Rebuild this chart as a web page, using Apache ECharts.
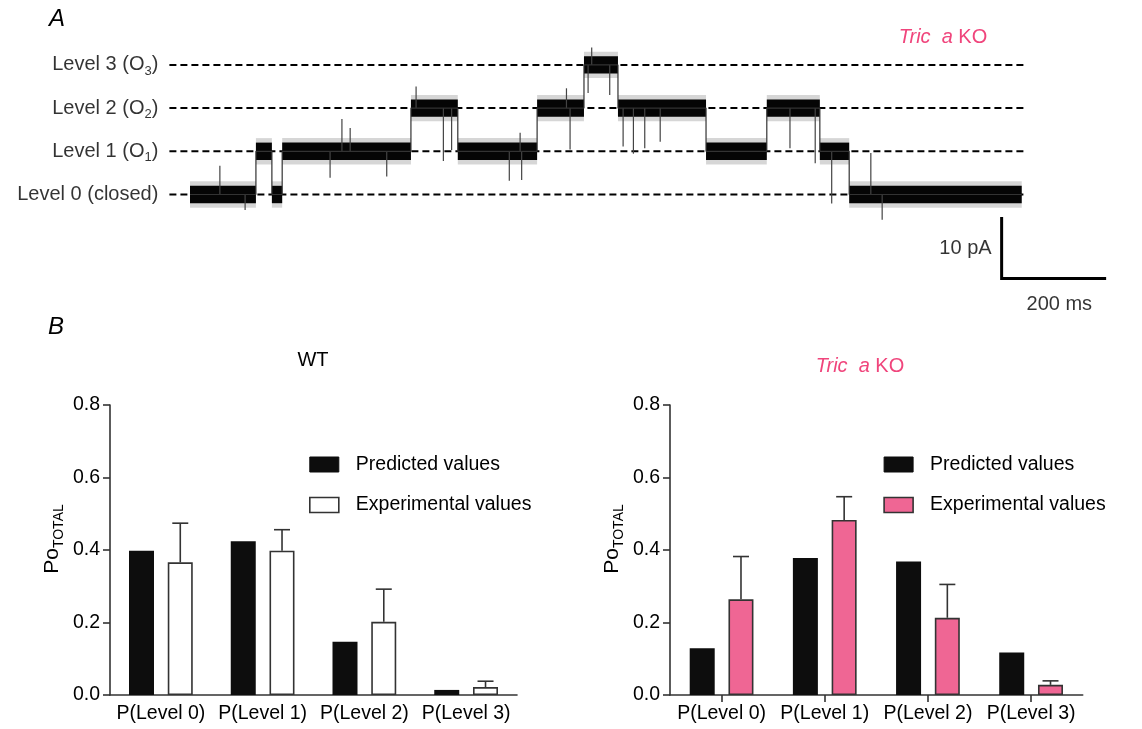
<!DOCTYPE html>
<html>
<head>
<meta charset="utf-8">
<script src="https://cdn.jsdelivr.net/npm/echarts@6/dist/echarts.min.js"></script>
<style>
  html, body { margin: 0; background: #fff; }
  #chart { width: 1142px; height: 729px; }
</style>
</head>
<body>
<div id="chart"></div>
<script>
// ---- panel A: single channel trace (time in ms, current in pA) ----
const levelValues = [0, 7.2, 14.4, 21.6];
const levelNames = ['Level 0 (closed)', 'Level 1 (O', 'Level 2 (O', 'Level 3 (O'];
const levelSubs = ['', '1', '2', '3'];
const dashRange = [-40, 1625];

// dwell periods: start, end, level index
const dwellStart = [0, 128, 159, 179, 429, 520, 674, 765, 831, 1002, 1120, 1223, 1280];
const dwellEnd   = [128, 159, 179, 429, 520, 674, 765, 831, 1002, 1120, 1223, 1280, 1615];
const dwellLevel = [0, 1, 0, 1, 2, 1, 2, 3, 2, 1, 2, 1, 0];

// brief spikes: time, peak current
const spikeTime = [58, 107, 272, 295, 311, 382, 439, 492, 508, 620, 641, 644, 731, 738,
                   780, 773, 815, 841, 861, 883, 913, 1165, 1214, 1246, 1322, 1344];
const spikePeak = [4.8, -2.6, 2.8, 12.6, 11.1, 3.0, 18.0, 5.6, 7.4, 2.3, 10.3, 2.4, 17.7, 7.5,
                   24.5, 16.9, 16.6, 8.0, 6.8, 7.7, 8.8, 7.7, 5.2, -1.5, 6.9, -4.2];

// scale bar: 200 ms by 10 pA
const scaleOrigin = [1576, -4];
const scaleTime = 200;
const scaleCurrent = 10;

// ---- panel B: open probabilities ----
const categories = ['P(Level 0)', 'P(Level 1)', 'P(Level 2)', 'P(Level 3)'];
const wtPredicted = [0.398, 0.424, 0.147, 0.014];
const wtExperimental = [0.366, 0.398, 0.202, 0.022];
const wtErrTop = [0.474, 0.456, 0.292, 0.038];
const koPredicted = [0.129, 0.378, 0.368, 0.117];
const koExperimental = [0.264, 0.483, 0.213, 0.028];
const koErrTop = [0.382, 0.547, 0.305, 0.039];
const yTicks = { min: 0, max: 0.8, interval: 0.2 };

const FONT = 'Liberation Sans';
const PINK_TEXT = '#f0457c';
const PINK_BAR = '#ef6694';
const INK = '#000';
const AXIS = '#333';

const chart = echarts.init(document.getElementById('chart'));

function levelOf(t) {
  for (let i = 0; i < dwellStart.length; i++) {
    if (t >= dwellStart[i] && t <= dwellEnd[i]) return levelValues[dwellLevel[i]];
  }
  return 0;
}

const tracePath = [];
dwellStart.forEach((s, i) => {
  tracePath.push([s, levelValues[dwellLevel[i]]]);
  tracePath.push([dwellEnd[i], levelValues[dwellLevel[i]]]);
});

const dashSeries = levelValues.map(v => ({
  type: 'line', xAxisIndex: 0, yAxisIndex: 0, silent: true, z: 1,
  symbol: 'none',
  data: [[dashRange[0], v], [dashRange[1], v]],
  lineStyle: { color: '#000', width: 2, type: [7, 4] }
}));

const subRich = {
  m: { fontFamily: FONT, fontSize: 20, color: INK, lineHeight: 26, verticalAlign: 'middle' },
  s: { fontFamily: FONT, fontSize: 13, color: INK, lineHeight: 13, verticalAlign: 'bottom' }
};

const nameRich = {
  p: { fontFamily: FONT, fontSize: 21, color: INK, lineHeight: 28, verticalAlign: 'middle' },
  s: { fontFamily: FONT, fontSize: 14, color: INK, lineHeight: 14, verticalAlign: 'bottom' }
};

function errorSeries(axisIndex, means, tops) {
  return {
    type: 'custom', xAxisIndex: axisIndex, yAxisIndex: axisIndex, z: 5, silent: true,
    data: means.map((m, i) => [i, m, tops[i]]),
    renderItem(params, api) {
      const base = api.coord([api.value(0), api.value(1)]);
      const top = api.coord([api.value(0), api.value(2)]);
      const x = base[0] + 19.4;
      const st = { stroke: AXIS, lineWidth: 1.6 };
      return {
        type: 'group',
        children: [
          { type: 'line', shape: { x1: x, y1: base[1], x2: x, y2: top[1] }, style: st },
          { type: 'line', shape: { x1: x - 8, y1: top[1], x2: x + 8, y2: top[1] }, style: st }
        ]
      };
    }
  };
}

function barAxes(i, left, width, ticks) {
  return {
    grid: { left: left, top: 405, width: width, height: 290, outerBoundsMode: 'none' },
    xAxis: {
      type: 'category', gridIndex: i, data: categories, boundaryGap: true,
      axisLine: { show: true, lineStyle: { color: AXIS, width: 1.6 } },
      axisTick: { show: ticks, alignWithLabel: true, length: 7, lineStyle: { color: AXIS, width: 1.6 } },
      axisLabel: { fontFamily: FONT, fontSize: 19.5, color: INK, margin: 9, interval: 0 },
      splitLine: { show: false }
    },
    yAxis: {
      type: 'value', gridIndex: i, min: yTicks.min, max: yTicks.max, interval: yTicks.interval,
      name: '{p|Po}{s|TOTAL}', nameLocation: 'middle', nameRotate: 90, nameGap: 44,
      nameTextStyle: { rich: nameRich, padding: [0, 0, 0, 22] },
      axisLine: { show: true, lineStyle: { color: AXIS, width: 1.6 } },
      axisTick: { show: true, length: 7, lineStyle: { color: AXIS, width: 1.6 } },
      axisLabel: { fontFamily: FONT, fontSize: 19.5, color: INK, margin: 10,
                   formatter: v => v.toFixed(1) },
      splitLine: { show: false }
    }
  };
}

const left = barAxes(1, 110, 407, false);
const right = barAxes(2, 670, 412.7, true);

const legendBase = {
  orient: 'vertical', padding: 0, itemWidth: 29, itemHeight: 15, itemGap: 20.5,
  icon: 'rect', selectedMode: false,
  textStyle: { fontFamily: FONT, fontSize: 19.5, color: INK, lineHeight: 15, padding: [0, 0, 0, 12] }
};

const titleRich = {
  i: { fontFamily: FONT, fontStyle: 'italic', fontSize: 20, fill: PINK_TEXT },
  n: { fontFamily: FONT, fontSize: 20, fill: PINK_TEXT }
};

chart.setOption({
  animation: false,
  backgroundColor: '#fff',
  grid: [
    { left: 169.4, top: 38.5, width: 947.6, height: 264, outerBoundsMode: 'none' },
    left.grid, right.grid
  ],
  xAxis: [
    { type: 'value', gridIndex: 0, min: -40, max: 1800, show: false },
    left.xAxis, right.xAxis
  ],
  yAxis: [
    { type: 'value', gridIndex: 0, min: -18, max: 26, show: false },
    left.yAxis, right.yAxis
  ],
  legend: [
    Object.assign({}, legendBase, {
      left: 309, top: 454.5,
      data: [
        { name: 'Predicted values', itemStyle: { color: '#0d0d0d', borderColor: '#0d0d0d', borderWidth: 1 } },
        { name: 'Experimental values', itemStyle: { color: '#fff', borderColor: AXIS, borderWidth: 1.6 } }
      ]
    }),
    Object.assign({}, legendBase, {
      left: 883.3, top: 454.5,
      data: [
        { name: 'Predicted values', itemStyle: { color: '#0d0d0d', borderColor: '#0d0d0d', borderWidth: 1 } },
        { name: 'Experimental values', itemStyle: { color: PINK_BAR, borderColor: AXIS, borderWidth: 1.6 } }
      ]
    })
  ],
  graphic: [
    { type: 'text', left: 49, top: 7, style: { text: 'A', font: 'italic 24px "Liberation Sans"', fill: INK } },
    { type: 'text', left: 48, top: 315, style: { text: 'B', font: 'italic 24px "Liberation Sans"', fill: INK } },
    { type: 'text', x: 943, y: 37, style: {
        text: '{i|Tric}  {i|a} {n|KO}', align: 'center', verticalAlign: 'middle',
        rich: titleRich, fontSize: 20, fontFamily: FONT, fill: PINK_TEXT } },
    { type: 'text', x: 313, y: 360, style: {
        text: 'WT', align: 'center', verticalAlign: 'middle', font: '20px "Liberation Sans"', fill: INK } },
    { type: 'text', x: 860, y: 366, style: {
        text: '{i|Tric}  {i|a} {n|KO}', align: 'center', verticalAlign: 'middle',
        rich: titleRich, fontSize: 20, fontFamily: FONT, fill: PINK_TEXT } }
  ],
  series: [
    ...dashSeries,
    // level labels at the left end of each dashed line
    {
      type: 'scatter', xAxisIndex: 0, yAxisIndex: 0, symbolSize: 0, silent: true,
      data: levelValues.map((v, i) => [dashRange[0], v, i]),
      label: {
        show: true, position: 'left', distance: 11, color: INK, rich: subRich,
        formatter: p => {
          const i = p.value[2];
          return levelSubs[i] ? '{m|' + levelNames[i] + '}{s|' + levelSubs[i] + '}{m|)}' : '{m|' + levelNames[i] + '}';
        }
      }
    },
    // noise band of each dwell
    {
      type: 'custom', xAxisIndex: 0, yAxisIndex: 0, z: 3, silent: true,
      data: dwellStart.map((s, i) => [s, dwellEnd[i], levelValues[dwellLevel[i]]]),
      renderItem(params, api) {
        const t0 = api.value(0), t1 = api.value(1), v = api.value(2);
        const a = api.coord([t0, v + 2.2]), b = api.coord([t1, v - 2.2]);
        const c = api.coord([t0, v + 1.45]), d = api.coord([t1, v - 1.45]);
        return {
          type: 'group',
          children: [
            { type: 'rect', shape: { x: a[0], y: a[1], width: b[0] - a[0], height: b[1] - a[1] },
              style: { fill: 'rgba(0,0,0,0.16)' } },
            { type: 'rect', shape: { x: c[0], y: c[1], width: d[0] - c[0], height: d[1] - c[1] },
              style: { fill: '#050505' } }
          ]
        };
      }
    },
    // transitions between levels
    {
      type: 'line', xAxisIndex: 0, yAxisIndex: 0, z: 3, silent: true, symbol: 'none',
      data: tracePath, lineStyle: { color: '#333', width: 1.2 }
    },
    // spikes
    {
      type: 'custom', xAxisIndex: 0, yAxisIndex: 0, z: 3, silent: true,
      data: spikeTime.map((t, i) => [t, spikePeak[i]]),
      renderItem(params, api) {
        const t = api.value(0);
        const p0 = api.coord([t, levelOf(t)]);
        const p1 = api.coord([t, api.value(1)]);
        return { type: 'line', shape: { x1: p0[0], y1: p0[1], x2: p1[0], y2: p1[1] },
                 style: { stroke: '#444', lineWidth: 1.2 } };
      }
    },
    // scale bar
    {
      type: 'line', xAxisIndex: 0, yAxisIndex: 0, z: 3, silent: true, symbol: 'none',
      data: [scaleOrigin, [scaleOrigin[0], scaleOrigin[1] - scaleCurrent],
             [scaleOrigin[0] + scaleTime, scaleOrigin[1] - scaleCurrent]],
      lineStyle: { color: '#000', width: 3, join: 'miter', cap: 'square' }
    },
    {
      type: 'scatter', xAxisIndex: 0, yAxisIndex: 0, symbolSize: 0, silent: true,
      data: [
        { value: [scaleOrigin[0], scaleOrigin[1] - scaleCurrent / 2],
          label: { position: 'left', distance: 10, formatter: scaleCurrent + ' pA' } },
        { value: [scaleOrigin[0] + scaleTime / 2 + 12, scaleOrigin[1] - scaleCurrent],
          label: { position: 'bottom', distance: 16, formatter: scaleTime + ' ms' } }
      ],
      label: { show: true, fontFamily: FONT, fontSize: 20, color: INK }
    },
    // WT bars
    {
      type: 'bar', name: 'Predicted values', xAxisIndex: 1, yAxisIndex: 1,
      data: wtPredicted, barWidth: 25, barGap: '55%',
      itemStyle: { color: '#0d0d0d' }
    },
    {
      type: 'bar', name: 'Experimental values', xAxisIndex: 1, yAxisIndex: 1,
      data: wtExperimental, barWidth: 25, barGap: '55%',
      itemStyle: { color: '#fff', borderColor: AXIS, borderWidth: 1.6 }
    },
    errorSeries(1, wtExperimental, wtErrTop),
    // KO bars
    {
      type: 'bar', name: 'Predicted values', xAxisIndex: 2, yAxisIndex: 2,
      data: koPredicted, barWidth: 25, barGap: '55%',
      itemStyle: { color: '#0d0d0d' }
    },
    {
      type: 'bar', name: 'Experimental values', xAxisIndex: 2, yAxisIndex: 2,
      data: koExperimental, barWidth: 25, barGap: '55%',
      itemStyle: { color: PINK_BAR, borderColor: AXIS, borderWidth: 1.6 }
    },
    errorSeries(2, koExperimental, koErrTop)
  ]
});
</script>
</body>
</html>
